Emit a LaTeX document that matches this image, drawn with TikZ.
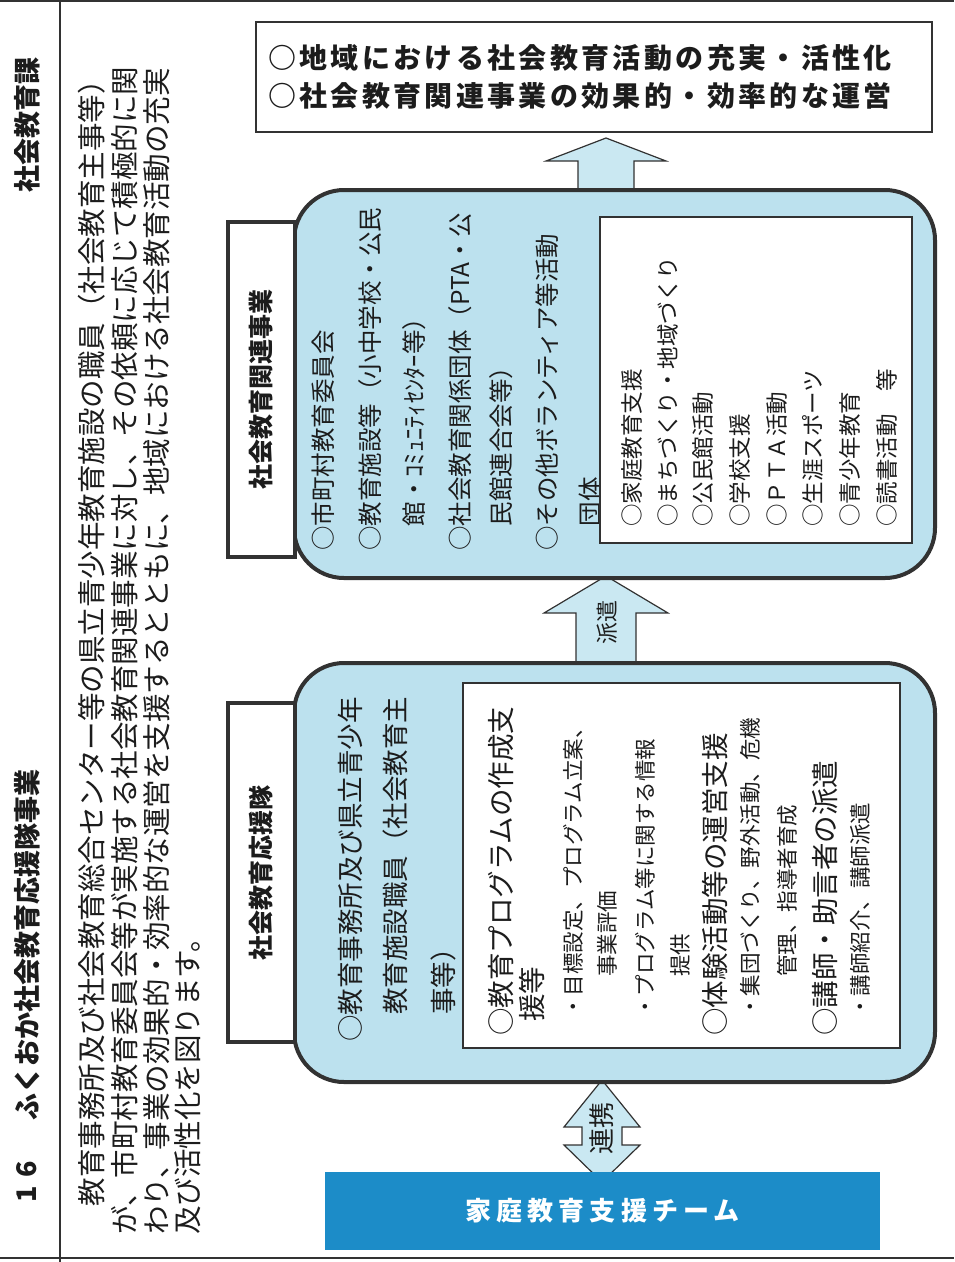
\documentclass[tikz,border=0pt]{standalone}
\usepackage{fontspec}
\setmainfont{Noto Sans CJK JP}

\definecolor{linegray}{RGB}{50,50,50}
\definecolor{inkgray}{RGB}{28,28,28}
\definecolor{paleblue}{RGB}{188,225,238}
\definecolor{arrowblue}{RGB}{202,232,242}
\definecolor{teamblue}{RGB}{28,140,200}

\tikzset{
    framerule/.style={draw=linegray, line width=2.5pt},
    vtext/.style={rotate=90, anchor=west, inner sep=0pt, text=inkgray},
    headtext/.style={rotate=90, inner sep=0pt, text=inkgray, font=\bfseries\fontsize{27}{30}\selectfont},
    introline/.style={vtext, font=\fontsize{28.5}{32}\selectfont},
    cheerline/.style={vtext, font=\fontsize{26.5}{30}\selectfont},
    relline/.style={vtext, font=\fontsize{24.5}{28}\selectfont},
    listline/.style={vtext, font=\fontsize{22.5}{26}\selectfont},
    mainline/.style={vtext, font=\fontsize{27.5}{32}\selectfont},
    subline/.style={vtext, font=\fontsize{21.5}{25}\selectfont},
    bluebox/.style={draw=linegray, line width=4pt, fill=paleblue, rounded corners=50pt},
    titlebox/.style={draw=linegray, line width=4pt, fill=white, rotate=90, inner sep=0pt,
        text=inkgray, font=\bfseries\fontsize{25}{28}\selectfont},
    listbox/.style={draw=linegray, line width=1.5pt, fill=white},
    blockarrow/.style={draw=linegray, line width=1.2pt, fill=arrowblue, line join=miter},
    arrowlabel/.style={rotate=90, inner sep=0pt, text=inkgray},
}

\begin{document}
\begin{tikzpicture}[x=1pt, y=-1pt]
    \useasboundingbox (0,0) rectangle (954,1262);

    % page frame and header column
    \draw[framerule] (0,1) -- (954,1) (0,1258) -- (954,1258) (60,0) -- (60,1262);
    \node[headtext] (dept) at (27,125) {社会教育課};
    \node[headtext] (secnum) at (27,1182) {1\hspace{9pt}6};
    \node[headtext] (sectitle) at (27,945) {ふくおか社会教育応援隊事業};

    % introduction
    \node[introline] (intro1) at (92,1235) {　教育事務所及び社会教育総合センター等の県立青少年教育施設の職員（社会教育主事等）};
    \node[introline] (intro2) at (125,1235) {が、市町村教育委員会等が実施する社会教育関連事業に対し、その依頼に応じて積極的に関};
    \node[introline] (intro3) at (157,1235) {わり、事業の効果的・効率的な運営を支援するとともに、地域における社会教育活動の充実};
    \node[introline] (intro4) at (188,1235) {及び活性化を図ります。};

    % block arrows, their ends go under the boxes
    \draw[blockarrow]
        (606,138) -- (666,161) -- (634,161) -- (634,194)
        -- (578,194) -- (578,161) -- (546,161) -- cycle;
    \draw[blockarrow]
        (606,576) -- (668,613) -- (636,613) -- (636,668)
        -- (576,668) -- (576,613) -- (544,613) -- cycle;
    \draw[blockarrow]
        (602,1080) -- (640,1127) -- (622,1127) -- (622,1145) -- (640,1145)
        -- (602,1182) -- (564,1145) -- (582,1145) -- (582,1127) -- (564,1127) -- cycle;

    % blue boxes
    \node[bluebox, minimum width=641pt, minimum height=388pt] (relblue) at (614.5,384) {};
    \node[bluebox, minimum width=641pt, minimum height=419pt] (cheerblue) at (614.5,872.5) {};

    % upper box: who takes part
    \node[relline] (rel1) at (323,551) {○市町村教育委員会};
    \node[relline] (rel2) at (370,551) {○教育施設等（小中学校・公民};
    \node[relline] (rel3) at (414,526.5) {館・ｺﾐｭﾆﾃｨｾﾝﾀｰ等）};
    \node[relline] (rel4) at (460,551) {○社会教育関係団体（PTA・公};
    \node[relline] (rel5) at (501,526.5) {民館連合会等）};
    \node[relline] (rel6) at (547,551) {○その他ボランティア等活動};
    \node[relline] (rel7) at (590,526.5) {団体};

    \node[listbox, minimum width=312pt, minimum height=326pt] (relinner) at (756,380) {};
    \node[listline] (act1) at (632,527) {○家庭教育支援};
    \node[listline] (act2) at (668,527) {○まちづくり・地域づくり};
    \node[listline] (act3) at (703,527) {○公民館活動};
    \node[listline] (act4) at (740,527) {○学校支援};
    \node[listline] (act5) at (777,527) {○ＰＴＡ活動};
    \node[listline] (act6) at (813,527) {○生涯スポーツ};
    \node[listline] (act7) at (850,527) {○青少年教育};
    \node[listline] (act8) at (887,527) {○読書活動　等};

    % lower box: the support team
    \node[cheerline] (cheer1) at (350,1042) {○教育事務所及び県立青少年};
    \node[cheerline] (cheer2) at (395,1015) {教育施設職員（社会教育主};
    \node[cheerline] (cheer3) at (443,1015) {事等）};

    \node[listbox, minimum width=437pt, minimum height=365pt] (cheerinner) at (681.5,865.5) {};
    \node[mainline] (help1) at (501,1036) {○教育プログラムの作成支};
    \node[mainline] (help2) at (532,1022) {援等};
    \node[subline] (help3) at (573,1018) {・目標設定、プログラム立案、};
    \node[subline] (help4) at (607,977) {事業評価};
    \node[subline] (help5) at (645,1018) {・プログラム等に関する情報};
    \node[subline] (help6) at (680,977) {提供};
    \node[mainline] (help7) at (715,1036) {○体験活動等の運営支援};
    \node[subline] (help8) at (750,1018) {・集団づくり、野外活動、危機};
    \node[subline] (help9) at (787,977) {管理、指導者育成};
    \node[mainline] (help10) at (825,1036) {○講師・助言者の派遣};
    \node[subline] (help11) at (860,1018) {・講師紹介、講師派遣};

    % titles on the left edge of the blue boxes
    \node[titlebox, minimum width=335pt, minimum height=67pt] (reltitle) at (261.5,389.5) {社会教育関連事業};
    \node[titlebox, minimum width=339pt, minimum height=67pt] (cheertitle) at (261.5,872.5) {社会教育応援隊};

    % arrow labels
    \node[arrowlabel, font=\fontsize{22}{24}\selectfont] (dispatch) at (607,622) {派遣};
    \node[arrowlabel, font=\fontsize{26}{28}\selectfont] (linkup) at (602,1128) {連携};

    % outcome and team
    \node[listbox, text width=652pt, inner xsep=12pt, inner ysep=0pt, minimum height=110pt,
        align=left, text=inkgray,
        font=\bfseries\fontsize{28}{38}\selectfont\addfontfeature{LetterSpace=12}] (result) at (594,77)
        {○地域における社会教育活動の充実・活性化\\○社会教育関連事業の効果的・効率的な運営};
    \node[fill=teamblue, minimum width=555pt, minimum height=78pt, text=white,
        font=\bfseries\fontsize{26}{30}\selectfont\addfontfeature{LetterSpace=20}] (team) at (602.5,1211)
        {家庭教育支援チーム};
\end{tikzpicture}
\end{document}
